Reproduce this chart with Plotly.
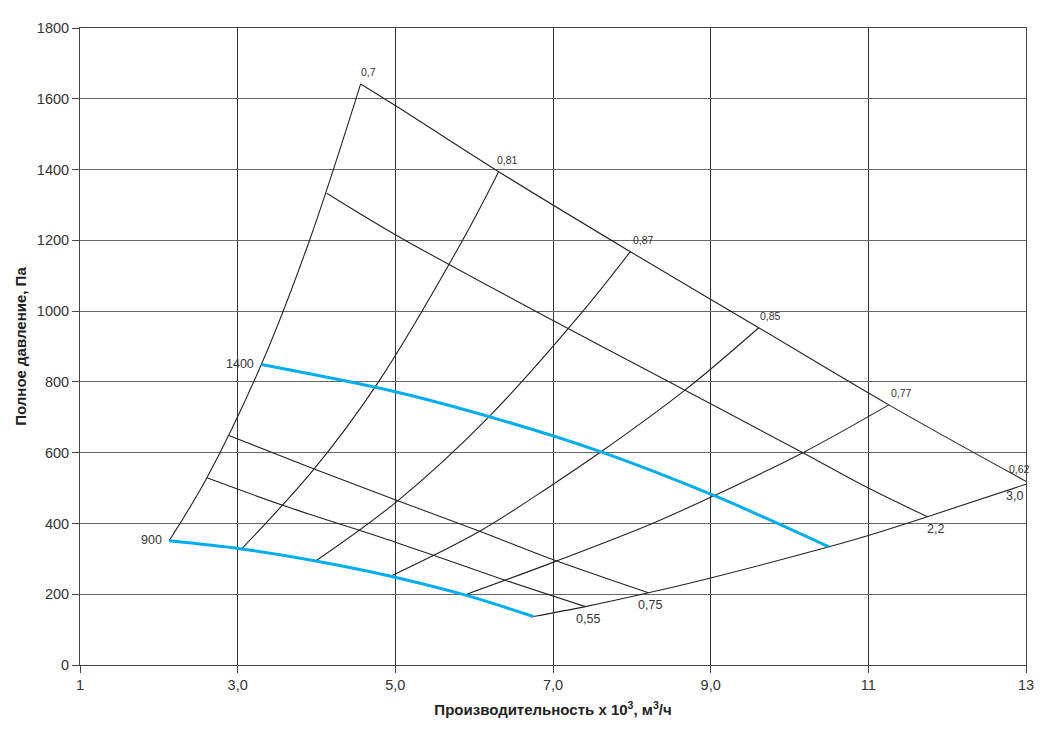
import plotly.graph_objects as go

# Напорные характеристики вентилятора, читаются с исходного графика
# КПД: левая граница (0,7) и линии постоянного КПД
eta_070_x = [2.13, 2.61, 3.30, 3.91, 4.56]
eta_070_y = [351, 529, 849, 1199, 1642]

eta_081_x = [3.05, 3.97, 4.78, 5.85, 6.31]
eta_081_y = [328, 554, 798, 1199, 1394]

eta_087_x = [3.99, 5.03, 6.19, 7.38, 7.98]
eta_087_y = [294, 464, 702, 1000, 1168]

eta_085_x = [4.94, 6.07, 6.97, 7.6, 8.67, 9.61]
eta_085_y = [251, 378, 506, 601, 776, 953]

eta_077_x = [5.88, 7.0, 8.23, 9.0, 10.17, 11.26]
eta_077_y = [198, 290, 397, 474, 600, 735]

# нижняя граница (0,62)
eta_062_x = [6.75, 7.41, 8.21, 9.0, 10.5, 11.0, 11.75, 13.0]
eta_062_y = [137, 165, 204, 246, 334, 366, 419, 511]

# мощность, кВт
kw_055_x = [2.61, 3.59, 5.0, 6.4, 7.41]
kw_055_y = [529, 450, 347, 239, 165]

kw_075_x = [2.88, 3.97, 5.03, 6.07, 6.97, 8.21]
kw_075_y = [649, 554, 464, 378, 300, 204]

kw_22_x = [4.13, 5.0, 6.97, 9.0, 10.17, 11.0, 11.75]
kw_22_y = [1333, 1216, 977, 738, 600, 500, 419]

kw_30_x = [4.56, 5.0, 6.31, 7.98, 9.61, 11.26, 13.0]
kw_30_y = [1642, 1581, 1394, 1168, 953, 735, 519]

# частота вращения, об/мин
rpm_1400_x = [3.30, 5.0, 6.34, 7.6, 9.04, 10.5]
rpm_1400_y = [849, 772, 692, 603, 479, 334]

rpm_900_x = [2.13, 3.05, 3.99, 4.94, 5.88, 6.75]
rpm_900_y = [351, 328, 294, 251, 198, 137]

x_ticks = [1, 3, 5, 7, 9, 11, 13]
x_tick_text = ["1", "3,0", "5,0", "7,0", "9,0", "11", "13"]
y_ticks = [0, 200, 400, 600, 800, 1000, 1200, 1400, 1600, 1800]

FONT = "Liberation Sans, Arial, sans-serif"
BLACK = "#222222"
BLUE = "#00aeef"

fig = go.Figure()

black_curves = [
    (eta_070_x, eta_070_y), (eta_081_x, eta_081_y), (eta_087_x, eta_087_y),
    (eta_085_x, eta_085_y), (eta_077_x, eta_077_y), (eta_062_x, eta_062_y),
    (kw_055_x, kw_055_y), (kw_075_x, kw_075_y), (kw_22_x, kw_22_y), (kw_30_x, kw_30_y),
]
for xs, ys in black_curves:
    fig.add_trace(go.Scatter(
        x=xs, y=ys, mode="lines",
        line=dict(color=BLACK, width=1.1, shape="spline", smoothing=1.0),
        hoverinfo="skip", showlegend=False,
    ))

for xs, ys in [(rpm_1400_x, rpm_1400_y), (rpm_900_x, rpm_900_y)]:
    fig.add_trace(go.Scatter(
        x=xs, y=ys, mode="lines",
        line=dict(color=BLUE, width=3, shape="spline", smoothing=1.0),
        hoverinfo="skip", showlegend=False,
    ))

# подписи КПД над верхней линией
eta_labels = [
    ("0,7", eta_070_x[-1], eta_070_y[-1], "left", -2),
    ("0,81", eta_081_x[-1], eta_081_y[-1], "left", -4),
    ("0,87", eta_087_x[-1], eta_087_y[-1], "left", 1),
    ("0,85", eta_085_x[-1], eta_085_y[-1], "left", -1),
    ("0,77", eta_077_x[-1], eta_077_y[-1], "left", 0),
    ("0,62", kw_30_x[-1], kw_30_y[-1], "right", 6),
]
for text, x, y, anchor, shift in eta_labels:
    fig.add_annotation(x=x, y=y, text=text, showarrow=False,
                       xanchor=anchor, yanchor="bottom", xshift=shift, yshift=4,
                       font=dict(family=FONT, size=10.5, color="#333333"))

# подписи мощности у нижних концов
kw_labels = [
    ("0,55", kw_055_x[-1], kw_055_y[-1], "center", 3),
    ("0,75", kw_075_x[-1], kw_075_y[-1], "center", 2),
    ("2,2", kw_22_x[-1], kw_22_y[-1], "center", 8),
    ("3,0", eta_062_x[-1], eta_062_y[-1], "right", -1),
]
for text, x, y, anchor, shift in kw_labels:
    fig.add_annotation(x=x, y=y, text=text, showarrow=False,
                       xanchor=anchor, yanchor="top", xshift=shift, yshift=-3,
                       font=dict(family=FONT, size=12.5, color="#333333"))

# частота вращения
for text, xs, ys in [("1400", rpm_1400_x, rpm_1400_y), ("900", rpm_900_x, rpm_900_y)]:
    fig.add_annotation(x=xs[0], y=ys[0], text=text, showarrow=False,
                       xanchor="right", yanchor="middle", xshift=-5, yshift=1,
                       font=dict(family=FONT, size=12.5, color="#333333"))

fig.update_layout(
    width=1043, height=727,
    margin=dict(l=70, r=25, t=15, b=70),
    plot_bgcolor="white", paper_bgcolor="white",
    font=dict(family=FONT, color="#333333"),
    showlegend=False,
)
fig.update_xaxes(
    range=[1, 13], tickvals=x_ticks, ticktext=x_tick_text,
    showgrid=True, gridcolor="#333333", gridwidth=1,
    showline=True, linecolor="#444444", linewidth=1, mirror=True,
    ticks="outside", ticklen=7, tickcolor="#444444",
    tickfont=dict(size=14.5, color="#333333"), zeroline=False,
    title=dict(text="<b>Производительность х 10<sup>3</sup>, м<sup>3</sup>/ч</b>",
               font=dict(size=15, color="#222222"), standoff=12),
)
fig.update_yaxes(
    range=[0, 1800], tickvals=y_ticks,
    showgrid=True, gridcolor="#666666", gridwidth=1,
    showline=True, linecolor="#444444", linewidth=1, mirror=True,
    ticks="outside", ticklen=7, tickcolor="#444444",
    tickfont=dict(size=14.5, color="#333333"), zeroline=False,
    title=dict(text="<b>Полное давление, Па</b>",
               font=dict(size=15, color="#222222"), standoff=6),
)

fig.write_html("out.html")
